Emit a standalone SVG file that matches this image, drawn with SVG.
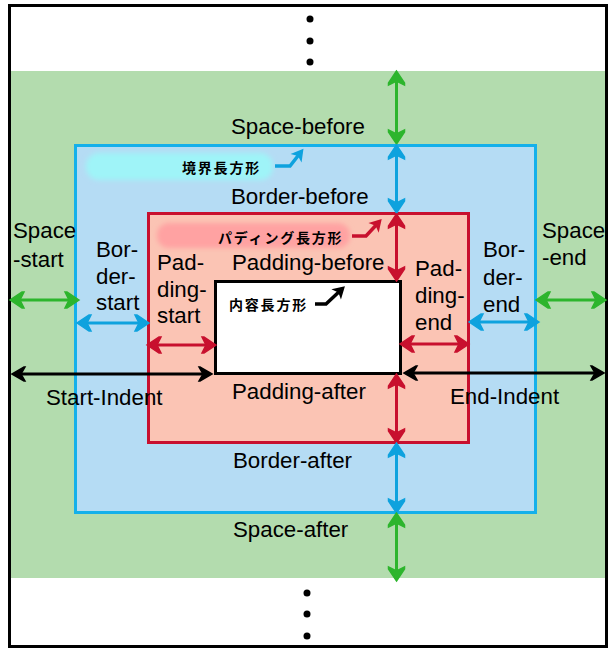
<svg xmlns="http://www.w3.org/2000/svg" width="609" height="650" viewBox="0 0 609 650">
<defs>
<style>
.t{font-family:"Liberation Sans",Arial,sans-serif;font-size:22.3px;fill:#000}
.j{font-family:"Noto Sans CJK JP","Noto Sans CJK SC",sans-serif;font-size:14px;font-weight:bold;letter-spacing:1.8px;fill:#000}
.g{stroke:#2db52d;stroke-width:3;fill:none;marker-start:url(#hg);marker-end:url(#hg)}
.b{stroke:#0ea2de;stroke-width:3;fill:none;marker-start:url(#hb);marker-end:url(#hb)}
.r{stroke:#c8102e;stroke-width:3;fill:none;marker-start:url(#hr);marker-end:url(#hr)}
.k{stroke:#000;stroke-width:3;fill:none;marker-start:url(#hk);marker-end:url(#hk)}
</style>
<marker id="hg" markerUnits="userSpaceOnUse" orient="auto-start-reverse" refX="0" refY="0" markerWidth="20" markerHeight="20" overflow="visible"><path d="M2,0 L-10,-8 L-12,-8 L-8,0 L-12,8 L-10,8 Z" fill="#2db52d" stroke="#2db52d" stroke-width="1.5" stroke-linejoin="miter"/></marker>
<marker id="hb" markerUnits="userSpaceOnUse" orient="auto-start-reverse" refX="0" refY="0" markerWidth="20" markerHeight="20" overflow="visible"><path d="M2,0 L-10,-8 L-12,-8 L-8,0 L-12,8 L-10,8 Z" fill="#0ea2de" stroke="#0ea2de" stroke-width="1.5"/></marker>
<marker id="hr" markerUnits="userSpaceOnUse" orient="auto-start-reverse" refX="0" refY="0" markerWidth="20" markerHeight="20" overflow="visible"><path d="M2,0 L-10,-8 L-12,-8 L-8,0 L-12,8 L-10,8 Z" fill="#c8102e" stroke="#c8102e" stroke-width="1.5"/></marker>
<marker id="hk" markerUnits="userSpaceOnUse" orient="auto-start-reverse" refX="0" refY="0" markerWidth="20" markerHeight="20" overflow="visible"><path d="M2,0 L-10,-7 L-11,-7 L-7,0 L-11,7 L-10,7 Z" fill="#000" stroke="#000" stroke-width="1.5"/></marker>
<marker id="pb" markerUnits="userSpaceOnUse" orient="auto" refX="0" refY="0" markerWidth="20" markerHeight="20" overflow="visible"><path d="M4,0 L-8,-7 L-5,0 L-8,7 Z" fill="#0ea2de"/></marker>
<marker id="pr" markerUnits="userSpaceOnUse" orient="auto" refX="0" refY="0" markerWidth="20" markerHeight="20" overflow="visible"><path d="M4,0 L-8,-7 L-5,0 L-8,7 Z" fill="#c8102e"/></marker>
<marker id="pk" markerUnits="userSpaceOnUse" orient="auto" refX="0" refY="0" markerWidth="20" markerHeight="20" overflow="visible"><path d="M4,0 L-8,-7 L-5,0 L-8,7 Z" fill="#000"/></marker>
<filter id="blur" x="-20%" y="-60%" width="140%" height="220%"><feGaussianBlur stdDeviation="2.5"/></filter>
</defs>

<rect x="0" y="0" width="609" height="650" fill="#fff"/>

<g id="space-area">
<rect x="9" y="71" width="598" height="507" fill="#b3dcae"/>
</g>
<g id="border-rect">
<rect x="75.5" y="145.5" width="460" height="367" fill="#b5dcf4" stroke="#14b0ea" stroke-width="3"/>
<rect x="86" y="153" width="187" height="27" rx="13" fill="#9ff4f8" filter="url(#blur)"/>
</g>
<g id="padding-rect">
<rect x="148.5" y="213.5" width="320" height="229" fill="#fbc4b4" stroke="#c8102e" stroke-width="3"/>
<rect x="157" y="223" width="193" height="25" rx="12" fill="#ffa2a2" filter="url(#blur)"/>
</g>
<g id="content-rect">
<rect x="215.5" y="281.5" width="185" height="92" fill="#fff" stroke="#000" stroke-width="3"/>
</g>
<g id="frame">
<rect x="9.5" y="5.5" width="597" height="641" fill="none" stroke="#000" stroke-width="3"/>
<circle cx="310" cy="19" r="3.5" fill="#000"/>
<circle cx="310" cy="41" r="3.5" fill="#000"/>
<circle cx="310" cy="62" r="3.5" fill="#000"/>
<circle cx="307" cy="593" r="3.5" fill="#000"/>
<circle cx="307" cy="614" r="3.5" fill="#000"/>
<circle cx="307" cy="636" r="3.5" fill="#000"/>
</g>

<g id="connectors">
<line class="g" x1="396.5" y1="73" x2="396.5" y2="142"/>
<line class="b" x1="396.5" y1="147" x2="396.5" y2="211"/>
<line class="r" x1="396.5" y1="216" x2="396.5" y2="279"/>
<line class="r" x1="396.5" y1="376" x2="396.5" y2="441"/>
<line class="b" x1="396.5" y1="445" x2="396.5" y2="511"/>
<line class="g" x1="396.5" y1="515" x2="396.5" y2="579"/>

<line class="g" x1="12" y1="300" x2="77" y2="300"/>
<line class="b" x1="79" y1="323" x2="147" y2="323"/>
<line class="r" x1="149" y1="345" x2="214" y2="345"/>
<line class="k" x1="14" y1="374" x2="210" y2="374"/>

<line class="r" x1="402" y1="344" x2="467" y2="344"/>
<line class="b" x1="471" y1="322" x2="537" y2="322"/>
<line class="g" x1="538" y1="300" x2="604" y2="300"/>
<line class="k" x1="406" y1="373" x2="602" y2="373"/>

<polyline points="275,166 290,166 301,152" fill="none" stroke="#0ea2de" stroke-width="3.5" marker-end="url(#pb)"/>
<polyline points="352,236 366,236 379,222" fill="none" stroke="#c8102e" stroke-width="3.5" marker-end="url(#pr)"/>
<polyline points="315,304 326,304 342,289" fill="none" stroke="#000" stroke-width="3.5" marker-end="url(#pk)"/>
</g>

<g id="labels">
<text class="t" x="231" y="134">Space-before</text>
<text class="t" x="231" y="204">Border-before</text>
<text class="t" x="232" y="270">Padding-before</text>
<text class="t" x="232" y="399">Padding-after</text>
<text class="t" x="233" y="468">Border-after</text>
<text class="t" x="233" y="537">Space-after</text>
<text class="t" x="13" y="238">Space</text>
<text class="t" x="13" y="267">-start</text>
<text class="t" x="96" y="257">Bor-</text>
<text class="t" x="96" y="284">der-</text>
<text class="t" x="96" y="310">start</text>
<text class="t" x="157" y="270">Pad-</text>
<text class="t" x="157" y="297">ding-</text>
<text class="t" x="157" y="323">start</text>
<text class="t" x="415" y="276">Pad-</text>
<text class="t" x="415" y="303">ding-</text>
<text class="t" x="415" y="330">end</text>
<text class="t" x="483" y="257">Bor-</text>
<text class="t" x="483" y="285">der-</text>
<text class="t" x="483" y="312">end</text>
<text class="t" x="542" y="238">Space</text>
<text class="t" x="542" y="265">-end</text>
<text class="t" x="46" y="405">Start-Indent</text>
<text class="t" x="450" y="404">End-Indent</text>
<text class="j" x="182" y="173">境界長方形</text>
<text class="j" x="218" y="243">パディング長方形</text>
<text class="j" x="229" y="310">内容長方形</text>
</g>
</svg>
